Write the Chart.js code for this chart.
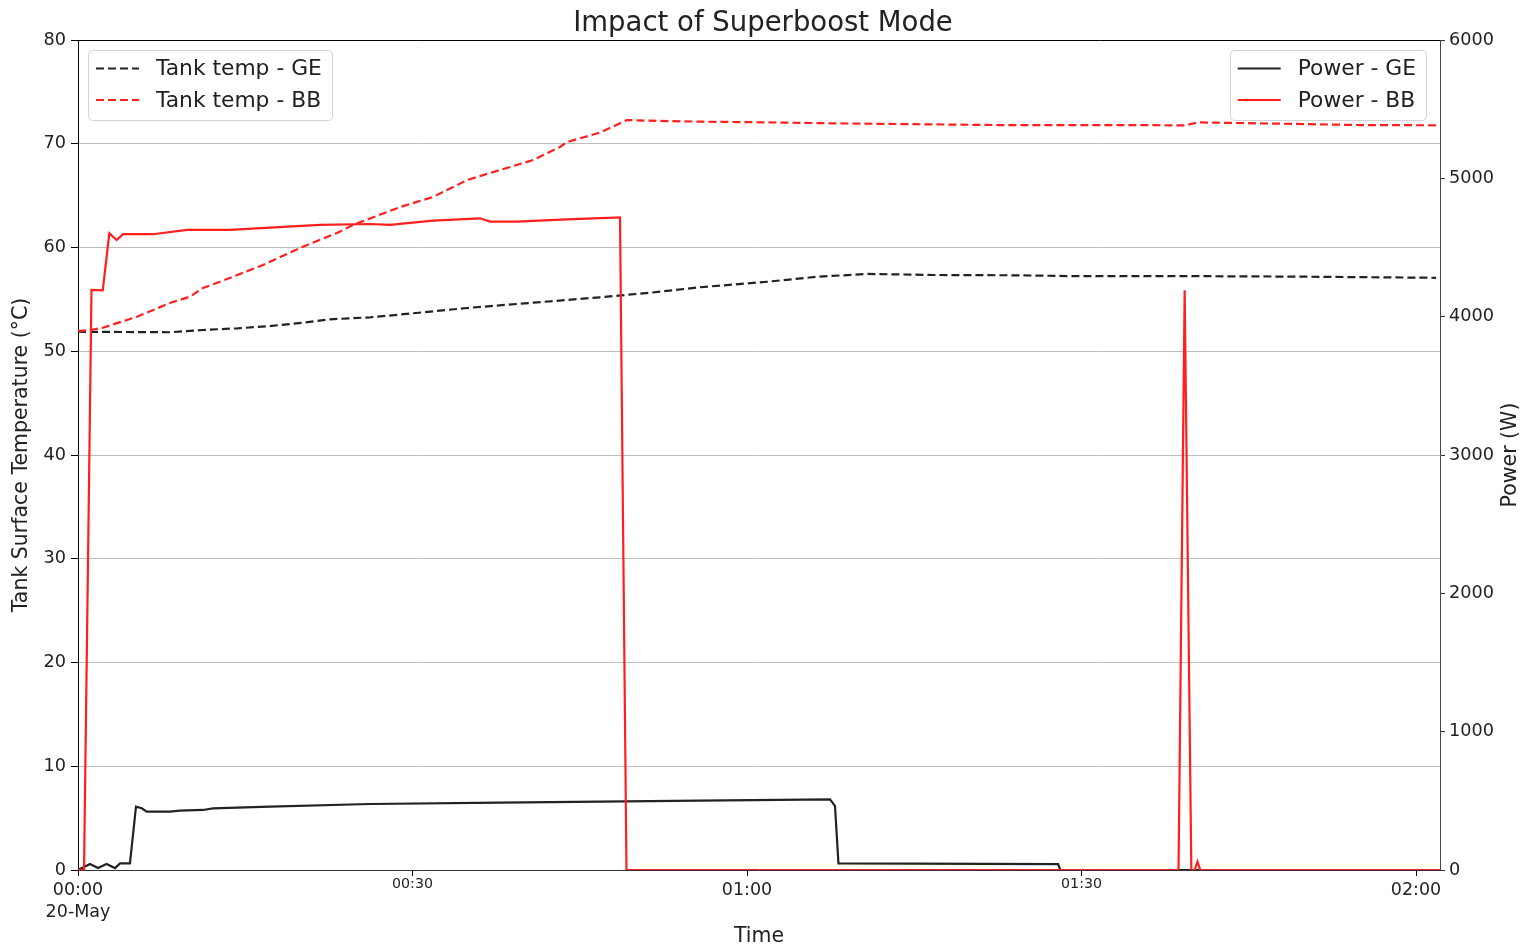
<!DOCTYPE html>
<html>
<head>
<meta charset="utf-8">
<title>Impact of Superboost Mode</title>
<script src="https://cdn.jsdelivr.net/npm/chart.js@4.4.1/dist/chart.umd.min.js"></script>
<style>
  html, body { margin: 0; padding: 0; background: #fff; }
  #wrap { width: 1526px; height: 950px; }
</style>
</head>
<body>
<div id="wrap"><canvas id="chart" width="1526" height="950"></canvas></div>
<script>
// all times are minutes after 00:00 on 20-May
const tankGeTime = [0, 8.25, 11.2, 14.3, 17.2, 20.2, 22.6, 26.2, 28.9, 34.9, 40.8, 46.8, 51.3, 55.8, 61.8, 66.3, 70.8, 76.7, 84.2, 88.7, 98.2, 109.6, 121.8];
const tankGeTemp = [51.88, 51.83, 52.05, 52.21, 52.43, 52.75, 53.08, 53.27, 53.54, 54.17, 54.68, 55.2, 55.64, 56.17, 56.7, 57.18, 57.45, 57.35, 57.32, 57.25, 57.25, 57.19, 57.08];

const tankBbTime = [0, 1.1, 2.24, 5.29, 8.25, 10.04, 11.21, 12.74, 15.43, 16.59, 17.22, 20.18, 23.23, 24.66, 26.19, 28.9, 31.84, 34.89, 37.85, 40.81, 43.23, 43.86, 46.82, 49.24, 51.3, 55.8, 61.8, 67.7, 73.7, 82.7, 94.6, 99.3, 100.4, 108.1, 115, 121.8];
const tankBbTemp = [51.95, 52.05, 52.27, 53.33, 54.65, 55.26, 56.1, 56.7, 57.83, 58.31, 58.63, 60.08, 61.4, 62.17, 62.8, 63.9, 64.87, 66.5, 67.47, 68.43, 69.69, 70.17, 71.08, 72.29, 72.22, 72.13, 72.06, 71.97, 71.9, 71.8, 71.8, 71.77, 72.06, 71.93, 71.8, 71.78];

const powerGeTime = [0, 1.08, 1.79, 2.56, 3.32, 3.77, 4.66, 5.2, 5.72, 6.16, 8.25, 9.15, 11.21, 12.11, 17.22, 26.19, 37.85, 46.82, 55.8, 67.44, 67.89, 68.2, 75, 87.9, 88.1, 121.8];
const powerGeW = [0, 43, 14, 43, 14, 48, 48, 458, 446, 422, 422, 429, 434, 446, 458, 477, 487, 494, 501, 511, 463, 48, 46, 43, 0, 0];

const powerBbTime = [0, 0.54, 1.21, 2.22, 2.81, 3.47, 4.04, 6.73, 9.78, 13.63, 17.22, 21.7, 26.19, 27.98, 31.84, 36.05, 36.95, 39.37, 43.86, 48.61, 49.19, 98.7, 99.25, 99.85, 100.15, 100.4, 100.65, 122.15];
const powerBbW = [0, 0, 4193, 4190, 4603, 4554, 4596, 4596, 4627, 4627, 4643, 4663, 4670, 4663, 4694, 4711, 4687, 4687, 4704, 4718, 0, 0, 4190, 0, 0, 60, 0, 0];

const xTickMinutes = [0, 30, 60, 90, 120];
const xTickLabels = ['00:00', '00:30', '01:00', '01:30', '02:00'];
const dateLabel = '20-May';

const FONT = '"DejaVu Sans", sans-serif';
const TEXT = '#222';
const BLACK = '#222';
const RED = '#ff1f1f';

const pts = (xs, ys) => xs.map((x, i) => ({ x, y: ys[i] }));

// legend boxes + top frame + right axis title, drawn on top of the chart
const extras = {
  id: 'extras',
  afterDraw(chart) {
    const { ctx, chartArea } = chart;
    ctx.save();

    ctx.strokeStyle = '#000';
    ctx.lineWidth = 1;
    ctx.beginPath();
    ctx.moveTo(chartArea.left, Math.round(chartArea.top) + 0.5);
    ctx.lineTo(chartArea.right, Math.round(chartArea.top) + 0.5);
    ctx.stroke();

    ctx.font = '21.8px ' + FONT;
    const groups = [
      { items: [0, 1], side: 'left' },
      { items: [2, 3], side: 'right' }
    ];
    groups.forEach(g => {
      const ds = g.items.map(i => chart.data.datasets[i]);
      const textW = Math.max(...ds.map(d => ctx.measureText(d.label).width));
      const w = 68 + textW + 10;
      const h = 70;
      const x = g.side === 'left' ? chartArea.left + 10 : chartArea.right - 14 - w;
      const y = chartArea.top + 10;
      ctx.beginPath();
      ctx.roundRect(Math.round(x) + 0.5, Math.round(y) + 0.5, Math.round(w), h, 4);
      ctx.fillStyle = 'rgba(255,255,255,0.8)';
      ctx.fill();
      ctx.strokeStyle = '#d4d4d4';
      ctx.lineWidth = 1;
      ctx.stroke();
      ds.forEach((d, k) => {
        const ly = y + 18.5 + k * 31.5;
        ctx.beginPath();
        ctx.setLineDash(d.borderDash || []);
        ctx.strokeStyle = d.borderColor;
        ctx.lineWidth = d.borderWidth;
        ctx.moveTo(x + 8, ly);
        ctx.lineTo(x + 51, ly);
        ctx.stroke();
        ctx.setLineDash([]);
        ctx.fillStyle = TEXT;
        ctx.textBaseline = 'middle';
        ctx.textAlign = 'left';
        ctx.fillText(d.label, x + 68, ly + 1);
      });
    });

    // matplotlib style right label reads bottom to top
    ctx.translate(chart.width - 15, (chartArea.top + chartArea.bottom) / 2);
    ctx.rotate(-Math.PI / 2);
    ctx.font = '20.5px ' + FONT;
    ctx.fillStyle = TEXT;
    ctx.textAlign = 'center';
    ctx.textBaseline = 'middle';
    ctx.fillText('Power (W)', 0, 0);
    ctx.restore();
  }
};

new Chart(document.getElementById('chart'), {
  type: 'line',
  data: {
    datasets: [
      {
        label: 'Tank temp - GE',
        data: pts(tankGeTime, tankGeTemp),
        yAxisID: 'y',
        borderColor: BLACK,
        borderWidth: 2.2,
        borderDash: [8, 4],
        order: 3
      },
      {
        label: 'Tank temp - BB',
        data: pts(tankBbTime, tankBbTemp),
        yAxisID: 'y',
        borderColor: RED,
        borderWidth: 2.2,
        borderDash: [8, 4],
        order: 2
      },
      {
        label: 'Power - GE',
        data: pts(powerGeTime, powerGeW),
        yAxisID: 'y2',
        borderColor: BLACK,
        borderWidth: 2.2,
        order: 1
      },
      {
        label: 'Power - BB',
        data: pts(powerBbTime, powerBbW),
        yAxisID: 'y2',
        borderColor: RED,
        borderWidth: 2.2,
        order: 0
      }
    ]
  },
  options: {
    responsive: false,
    animation: false,
    events: [],
    layout: { padding: 0 },
    elements: {
      point: { radius: 0 },
      line: { tension: 0, fill: false, borderCapStyle: 'butt' }
    },
    plugins: {
      legend: { display: false },
      tooltip: { enabled: false },
      title: {
        display: true,
        text: 'Impact of Superboost Mode',
        color: TEXT,
        font: { family: FONT, size: 27.5, weight: 'normal', lineHeight: 1.2 },
        padding: { top: 7, bottom: 0 }
      }
    },
    scales: {
      x: {
        type: 'linear',
        min: 0,
        max: 122.15,
        afterBuildTicks: (s) => { s.ticks = xTickMinutes.map(v => ({ value: v })); },
        afterFit: (s) => { s.height = 80; },
        ticks: {
          autoSkip: false,
          maxRotation: 0,
          padding: 3,
          color: TEXT,
          font: (c) => (c.tick && c.tick.value % 60 === 0)
            ? { family: FONT, size: 17.5, lineHeight: 1.257 }
            : { family: FONT, size: 14.2, lineHeight: 0.75 },
          callback: (v, i) => (v === 0 ? [xTickLabels[i], dateLabel] : xTickLabels[i])
        },
        grid: { drawOnChartArea: false, tickLength: 6, tickColor: '#000' },
        border: { color: '#333', width: 1 },
        title: {
          display: true,
          text: 'Time',
          color: TEXT,
          font: { family: FONT, size: 20.5 },
          padding: { top: 2, bottom: 1 }
        }
      },
      y: {
        position: 'left',
        min: 0,
        max: 80,
        afterFit: (s) => { s.width = 78; },
        ticks: {
          stepSize: 10,
          padding: 5,
          color: TEXT,
          font: { family: FONT, size: 17.7 }
        },
        grid: { color: '#bdbdbd', lineWidth: 1, tickLength: 7, tickColor: '#000' },
        border: { color: '#000', width: 1 },
        title: {
          display: true,
          text: 'Tank Surface Temperature (°C)',
          color: TEXT,
          font: { family: FONT, size: 20.5 },
          padding: { top: 9, bottom: 0 }
        }
      },
      y2: {
        position: 'right',
        min: 0,
        max: 6000,
        afterFit: (s) => { s.width = 86; },
        ticks: {
          stepSize: 1000,
          padding: 4,
          color: TEXT,
          font: { family: FONT, size: 17.7 },
          callback: (v) => String(v)
        },
        grid: { drawOnChartArea: false, tickLength: 5, tickColor: '#333' },
        border: { color: '#444', width: 1 }
      }
    }
  },
  plugins: [extras]
});
</script>
</body>
</html>
